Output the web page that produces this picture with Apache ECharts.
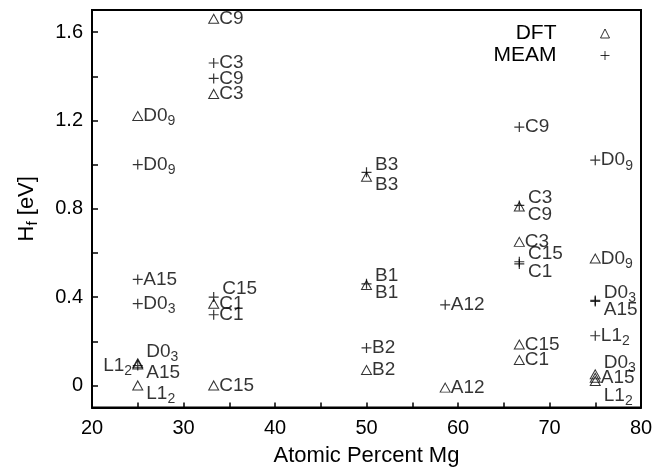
<!DOCTYPE html>
<html>
<head>
<meta charset="utf-8">
<script src="https://cdn.jsdelivr.net/npm/echarts@6/dist/echarts.min.js"></script>
<style>html,body{margin:0;padding:0;background:#fff}#c{width:668px;height:469px}</style>
</head>
<body>
<div id="c"></div>
<script>
// DFT values (Atomic Percent Mg, Hf eV, structure name, label placement)
var dftX = [25, 25, 25, 25, 33.3, 33.3, 33.3, 33.3, 50, 50, 50, 58.6, 66.7, 66.7, 66.7, 66.7, 75, 75, 75, 75];
var dftY = [1.22, 0.10, 0.095, 0.00, 1.66, 1.32, 0.37, 0.00, 0.945, 0.455, 0.07, -0.01, 0.81, 0.65, 0.185, 0.115, 0.575, 0.05, 0.035, 0.02];
var dftNames = ['D0_9', 'D0_3', 'A15', 'L1_2', 'C9', 'C3', 'C1', 'C15', 'B3', 'B1', 'B2', 'A12', 'C9', 'C3', 'C15', 'C1', 'D0_9', 'D0_3', 'A15', 'L1_2'];
var dftPlace = ['r', 'uu', 'd', 'd', 'r', 'r', 'r', 'r', 'd', 'd', 'r', 'r', 'd', 'r', 'r', 'r', 'r', 'uu', 'r', 'dd'];

// MEAM values
var meamX = [25, 25, 25, 25, 33.3, 33.3, 33.3, 33.3, 50, 50, 50, 58.6, 66.7, 66.7, 66.7, 66.7, 75, 75, 75, 75];
var meamY = [1.00, 0.48, 0.37, 0.09, 1.46, 1.39, 0.40, 0.32, 0.965, 0.46, 0.17, 0.365, 1.17, 0.815, 0.56, 0.55, 1.02, 0.385, 0.38, 0.225];
var meamNames = ['D0_9', 'A15', 'D0_3', 'L1_2', 'C3', 'C9', 'C15', 'C1', 'B3', 'B1', 'B2', 'A12', 'C9', 'C3', 'C15', 'C1', 'D0_9', 'D0_3', 'A15', 'L1_2'];
var meamPlace = ['r', 'r', 'r', 'l', 'r', 'r', 'u', 'r', 'u', 'u', 'r', 'r', 'r', 'u', 'u', 'd', 'r', 'u', 'd', 'r'];

// axis ticks
var xTicks = [20, 30, 40, 50, 60, 70, 80];
var yTicks = [0, 0.4, 0.8, 1.2, 1.6];
var yMinorTicks = [0, 0.2, 0.4, 0.6, 0.8, 1.0, 1.2, 1.4, 1.6];

var FONT = 'Liberation Sans';
var rich = { s: { fontSize: 14, fontFamily: FONT, color: '#000', padding: [11, 0, 0, 0] } };

function fmtName(n) {
  var i = n.indexOf('_');
  if (i < 0) return n;
  return n.slice(0, i) + '{s|' + n.slice(i + 1) + '}';
}
var PLACES = {
  l: { position: 'left', distance: 0 },
  r: { position: 'right', distance: 0 },
  u: { position: 'right', distance: 3, offset: [0, -8] },
  d: { position: 'right', distance: 3, offset: [0, 8] },
  uu: { position: 'right', distance: 3, offset: [0, -12] },
  dd: { position: 'right', distance: 3, offset: [0, 15] }
};
function build(xs, ys, names, places) {
  return xs.map(function (x, i) {
    return { value: [x, ys[i]], name: names[i], label: PLACES[places[i]] };
  });
}

var baseLabel = {
  show: true, fontFamily: FONT, fontSize: 19, color: '#000',
  formatter: function (p) { return fmtName(p.name); }, rich: rich
};

var chart = echarts.init(document.getElementById('c'), null, { renderer: 'canvas' });
chart.setOption({
  animation: false,
  backgroundColor: '#fff',
  grid: {
    left: 92, right: 27, top: 10, bottom: 61.5, containLabel: false, outerBoundsMode: 'none',
    show: true, borderColor: '#000', borderWidth: 2, backgroundColor: 'transparent'
  },
  legend: {
    data: ['DFT', 'MEAM'], orient: 'vertical', right: 53, top: 18, align: 'right',
    itemWidth: 9, itemHeight: 9, itemGap: 1,
    itemStyle: { borderWidth: 1 },
    textStyle: { fontFamily: FONT, fontSize: 21, color: '#000', padding: [0, 39, 0, 0] },
    selectedMode: false
  },
  xAxis: {
    type: 'value', min: 20, max: 80, interval: 5,
    name: 'Atomic Percent Mg', nameLocation: 'middle', nameGap: 37,
    nameTextStyle: { fontFamily: FONT, fontSize: 22, color: '#000' },
    axisLine: { show: true, onZero: false, lineStyle: { color: '#000', width: 2 } },
    axisTick: { show: true, inside: true, length: 5, lineStyle: { color: '#000', width: 1.5 } },
    axisLabel: {
      customValues: xTicks, margin: 11, fontFamily: FONT, fontSize: 20, color: '#000'
    },
    splitLine: { show: false }
  },
  yAxis: {
    type: 'value', min: -0.1, max: 1.7,
    name: 'H{s|f} [eV]', nameLocation: 'middle', nameGap: 52,
    nameTextStyle: { fontFamily: FONT, fontSize: 22, color: '#000', rich: { s: { fontSize: 15, fontFamily: FONT, color: '#000', padding: [11, 0, 0, 0] } } },
    axisLine: { show: true, onZero: false, lineStyle: { color: '#000', width: 2 } },
    axisTick: { show: true, inside: true, length: 6, customValues: yMinorTicks, lineStyle: { color: '#000', width: 1.5 } },
    axisLabel: {
      customValues: yTicks, margin: 9, fontFamily: FONT, fontSize: 20, color: '#000',
      formatter: function (v) { return v === 0 ? '0' : v.toFixed(1); }
    },
    splitLine: { show: false }
  },
  series: [
    {
      name: 'DFT', type: 'scatter', symbol: 'triangle', symbolSize: [10, 9],
      itemStyle: { color: 'rgba(0,0,0,0)', borderColor: '#000', borderWidth: 1 },
      label: baseLabel,
      data: build(dftX, dftY, dftNames, dftPlace)
    },
    {
      name: 'MEAM', type: 'scatter', symbol: 'path://M0,5L10,5M5,0L5,10', symbolSize: 10,
      itemStyle: { color: 'rgba(0,0,0,0)', borderColor: '#000', borderWidth: 1.2 },
      label: baseLabel,
      data: build(meamX, meamY, meamNames, meamPlace)
    }
  ]
});
</script>
</body>
</html>
